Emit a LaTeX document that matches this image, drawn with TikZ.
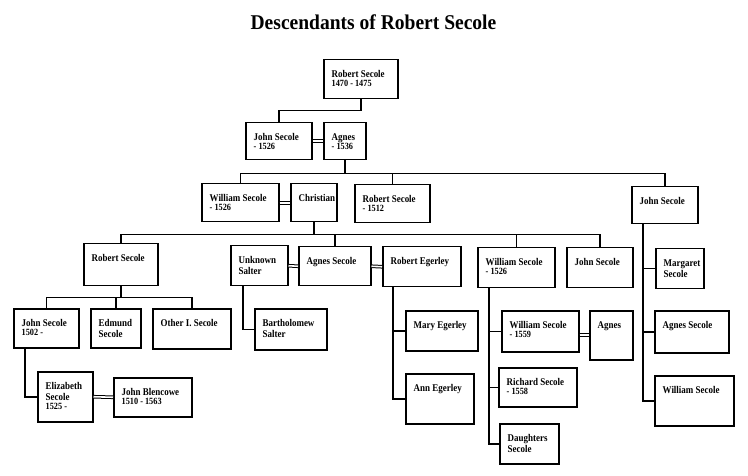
\documentclass[tikz,border=0pt]{standalone}
\usepackage{fontspec}
\setmainfont{Liberation Serif}
\newfontfamily\boxfont[FakeStretch=0.87]{Liberation Serif}
\newfontfamily\titlefont[FakeStretch=0.93]{Liberation Serif}
\usetikzlibrary{calc}

% one box of the tree: name, x, y (top left), width, height, text
\newcommand{\person}[6]{%
  \node[person, minimum width=#4pt, minimum height=#5pt] (#1) at (#2,#3) {};
  \node[who] (#1-t) at ([xshift=8.5pt,yshift=-11.5pt]#1.north west) {#6};
}
\newcommand{\dates}[1]{\\[-2pt]{\fontsize{9.5}{10}\selectfont #1}}

\begin{document}
\begin{tikzpicture}[x=1pt,y=-1pt,
  person/.style={draw, line width=1.5pt, anchor=north west, inner sep=0pt},
  who/.style={anchor=north west, align=left, inner sep=0pt,
    font=\boxfont\bfseries\fontsize{10.3}{11}\selectfont},
  kin/.style={line width=1.5pt},
  wed/.style={double, double distance=1.6pt, line width=1pt}]
\fill[white] (0,0) rectangle (748,476);
\node[font=\titlefont\bfseries\fontsize{21}{24}\selectfont, anchor=base] (title) at (373.5,30) {Descendants of Robert Secole};

% generations 1 and 2
\person{robert}{323}{59}{74}{39}{Robert Secole\dates{1470 - 1475}}
\person{john}{245}{122}{66}{37}{John Secole\dates{- 1526}}
\person{agnes}{323}{122}{42}{37}{Agnes\dates{- 1536}}
\person{william}{201}{183}{77}{38}{William Secole\dates{- 1526}}
\person{christian}{290}{183}{46}{38}{Christian}
\person{robertb}{354}{184}{75}{38}{Robert Secole\dates{- 1512}}
\person{johnb}{631}{186}{66}{37}{John Secole}

% generation 3
\person{robertc}{83}{243}{74}{42}{Robert Secole}
\person{unknown}{230}{245}{57}{40}{Unknown\\Salter}
\person{agnesc}{298}{246}{72}{39}{Agnes Secole}
\person{egerley}{382}{246}{78}{40}{Robert Egerley}
\person{williamc}{477}{247}{77}{40}{William Secole\dates{- 1526}}
\person{johnc}{566}{247}{66}{40}{John Secole}
\person{margaret}{655}{248}{48}{40}{Margaret\\Secole}

% generation 4
\person{johnd}{13}{308}{65}{39}{John Secole\dates{1502 -}}
\person{edmund}{90}{308}{50}{39}{Edmund\\Secole}
\person{other}{152}{308}{78}{40}{Other I. Secole}
\person{bartholomew}{254}{308}{72}{41}{Bartholomew\\Salter}
\person{mary}{405}{310}{72}{40}{Mary Egerley}
\person{williamd}{501}{310}{77}{41}{William Secole\dates{- 1559}}
\person{agnesd}{589}{310}{43}{49}{Agnes}
\person{agnese}{654}{310}{74}{42}{Agnes Secole}
\person{richard}{498}{367}{78}{39}{Richard Secole\dates{- 1558}}
\person{elizabeth}{37}{371}{55}{50}{Elizabeth\\Secole\dates{1525 -}}
\person{ann}{405}{373}{68}{50}{Ann Egerley}
\person{blencowe}{113}{377}{78}{39}{John Blencowe\dates{1510 - 1563}}
\person{williame}{654}{375}{79}{50}{William Secole}
\person{daughters}{499}{423}{59}{40}{Daughters\\Secole}

% marriages
\draw[wed] (john.east) -- (agnes.west);
\draw[wed] (william.east) -- (christian.west);
\draw[wed] (unknown.east) -- (agnesc.west);
\draw[wed] (agnesc.east) -- (egerley.west);
\draw[wed] (elizabeth.east) -- (blencowe.west);
\draw[wed] (agnesd.west -| williamd.east) -- (agnesd.west);

% children, bars below the parents
\draw[kin] (robert.south) -- ++(0,11) -| (john.north);
\draw[kin] (agnes.south) -- ++(0,13) coordinate (k1);
\foreach \c in {william,robertb,johnb}
  \draw[kin] (k1) -| (\c.north);
\draw[kin] (christian.south) -- ++(0,12) coordinate (k2);
\foreach \c in {robertc,agnesc,williamc,johnc}
  \draw[kin] (k2) -| (\c.north);
\draw[kin] (robertc.south) -- ++(0,11) coordinate (k3);
\foreach \c in {johnd,edmund,other}
  \draw[kin] (k3) -| (\c.north);

% children, lines down the left side
\draw[kin] ([xshift=13pt]unknown.south west) |- (bartholomew.west);
\draw[kin] ([xshift=12pt]johnd.south west) |- (elizabeth.west);
\foreach \c in {mary,ann}
  \draw[kin] ([xshift=11pt]egerley.south west) |- (\c.west);
\foreach \c in {williamd,richard,daughters}
  \draw[kin] ([xshift=12pt]williamc.south west) |- (\c.west);
\foreach \c in {margaret,agnese,williame}
  \draw[kin] ([xshift=12pt]johnb.south west) |- (\c.west);
\end{tikzpicture}
\end{document}
